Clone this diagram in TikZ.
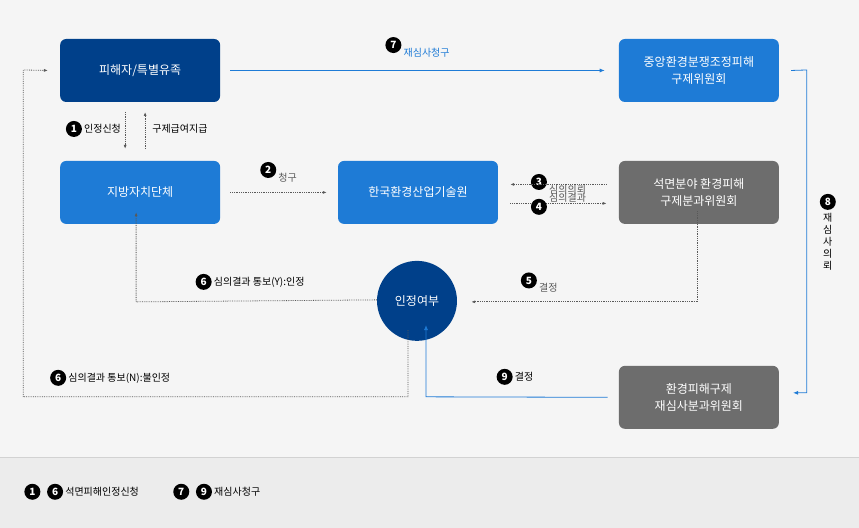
\documentclass[tikz,border=0pt]{standalone}
\usepackage{fontspec}
\setmainfont{Noto Sans CJK KR}
\usetikzlibrary{positioning, arrows.meta}
\definecolor{navy}{HTML}{00408A}
\definecolor{midblue}{HTML}{1E7BD6}
\definecolor{slate}{HTML}{6D6D6D}
\newcommand{\stepno}[1]{\tikz[baseline=-0.6ex]\node[circle, fill=black, text=white, inner sep=0pt, minimum size=16pt, font=\bfseries\fontsize{10}{10}\selectfont] {#1};}

\begin{document}
\begin{tikzpicture}[x=1pt, y=-1pt,
        box/.style={rounded corners=6pt, minimum width=160pt, minimum height=63pt, text=white, align=center, font=\fontsize{12}{17}\selectfont},
        lbl/.style={font=\fontsize{10}{12}\selectfont, inner sep=1pt},
        dots/.style={densely dotted, gray!70!black, thick, -{Latex[length=4pt, width=3pt]}},
        flow/.style={midblue, thick, -{Latex[length=5pt, width=4pt]}}
    ]
        % background
        \fill[gray!8] (0,0) rectangle (859,457);
        \fill[gray!15] (0,457) rectangle (859,528);
        \draw[gray!35] (0,457) -- (859,457);

        % boxes
        \node[box, fill=navy] (victim) at (140,70.5) {피해자/특별유족};
        \node[box, fill=midblue] (local) at (140,192.5) {지방자치단체};
        \node[box, fill=midblue] (keiti) at (418,192.5) {한국환경산업기술원};
        \node[box, fill=slate] (asbestos) at (699,192.5) {석면분야 환경피해\\구제분과위원회};
        \node[box, fill=midblue] (central) at (699,70.5) {중앙환경분쟁조정피해\\구제위원회};
        \node[box, fill=slate] (review) at (699,397.5) {환경피해구제\\재심사분과위원회};
        \node[circle, fill=navy, minimum size=80pt, text=white, font=\fontsize{12}{14}\selectfont] (decide) at (417,301) {인정여부};

        % helper points
        \coordinate (vA) at (125,112);
        \coordinate (vB) at (125,149);
        \coordinate (vC) at (145,149);
        \coordinate (vD) at (145,112);
        \coordinate (bendR) at (807,70);
        \coordinate (bendRb) at (807,393);
        \coordinate (midR) at (698,302);
        \coordinate (midL) at (136,302);
        \coordinate (lowN) at (408,397);
        \coordinate (farL) at (23,397);
        \coordinate (farLt) at (23,70);
        \coordinate (lowY) at (426,397);

        % connectors
        \draw[flow] ([xshift=10pt]victim.east) -- ([xshift=-14pt]central.west)
            node[lbl, midway, above=12pt] {\stepno{7} 재심사청구};
        \draw[dots] (vA) -- (vB);
        \draw[dots] (vC) -- (vD);
        \node[lbl, left=3pt] at (125,129) {\stepno{1} 인정신청};
        \node[lbl, right=6pt] at (145,129) {구제급여지급};
        \draw[dots] ([xshift=10pt]local.east) -- ([xshift=-11pt]keiti.west)
            node[lbl, midway, above=9pt] {\stepno{2} 청구};
        \draw[dots] ([xshift=12pt, yshift=-11pt]keiti.east) -- ([xshift=-12pt, yshift=-11pt]asbestos.west)
            node[lbl, midway, above=8pt] {\stepno{3} 심의의뢰};
        \draw[dots] ([xshift=-12pt, yshift=8pt]asbestos.west) -- ([xshift=12pt, yshift=8pt]keiti.east)
            node[lbl, midway, below=8pt] {\stepno{4} 심의결과};
        \draw[dots] ([yshift=13pt]asbestos.south -| midR) -- (midR) -- ([xshift=14pt]decide.east |- midR)
            node[lbl, pos=0.7, above=8pt] {\stepno{5} 결정};
        \draw[dots] ([yshift=1pt]decide.west) -- (midL) -- ([yshift=12pt]local.south -| midL)
            node[lbl, pos=0.2, above=8pt] {};
        \node[lbl] at (250,282) {\stepno{6} 심의결과 통보(Y):인정};
        \draw[dots] ([yshift=11pt]decide.south -| lowN) -- (lowN) -- (farL) -- (farLt) -- ([xshift=-12pt]victim.west);
        \node[lbl] at (110,378) {\stepno{6} 심의결과 통보(N):불인정};
        \draw[flow] ([xshift=12pt]central.east) -- (bendR) -- (bendRb) -- ([xshift=14pt]review.east |- bendRb);
        \node[lbl, align=center] at (828,232) {\stepno{8}\\[2pt]재\\심\\사\\의\\뢰};
        \draw[flow] ([xshift=-11pt]review.west) -- (lowY) -- ([yshift=16pt]decide.south -| lowY)
            node[lbl, pos=0.15, above=8pt] {};
        \node[lbl] at (515,377) {\stepno{9} 결정};

        % legend
        \node[lbl, anchor=west] (legA) at (23,492) {\stepno{1} ~ \stepno{6} 석면피해인정신청};
        \node[lbl, anchor=west, right=32pt of legA] (legB) {\stepno{7} ~ \stepno{9} 재심사청구};
    \end{tikzpicture}
\end{document}
